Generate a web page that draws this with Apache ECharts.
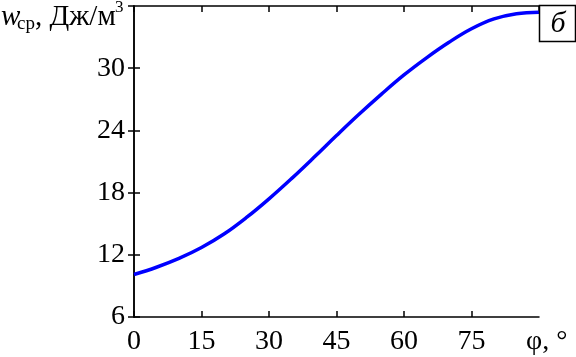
<!DOCTYPE html>
<html><head><meta charset="utf-8">
<script src="https://cdn.jsdelivr.net/npm/echarts@6/dist/echarts.min.js"></script>
<style>html,body{margin:0;padding:0;background:#fff}#c{width:576px;height:357px}</style>
</head><body><div id="c"></div>
<script>
const phi = [0,5,10,15,20,25,30,35,40,45,50,55,60,65,70,75,80,85,90];
const wcp = [10.1,10.8,11.65,12.7,14.0,15.6,17.4,19.35,21.4,23.5,25.55,27.5,29.35,31.0,32.5,33.8,34.75,35.25,35.4];
const xTicks = [0,15,30,45,60,75];
const yTicks = [6,12,18,24,30];
const xMax = 90, yMax = 36;
const F = 'Liberation Serif, Times New Roman, serif';
const chart = echarts.init(document.getElementById('c'), null, {renderer:'canvas'});
const tick = {show:true,inside:true,length:6,lineStyle:{color:'#000',width:1.5}};
const line = {show:true,lineStyle:{color:'#000',width:1.5}};
const split = {show:true,lineStyle:{color:'rgba(0,0,0,0)'}};
const lab = {color:'#000',fontFamily:F,fontSize:28,showMaxLabel:false};
const xBase = {type:'value',min:xTicks[0],max:xMax,interval:xTicks[1]-xTicks[0]};
const yBase = {type:'value',min:yTicks[0],max:yMax,interval:yTicks[1]-yTicks[0]};
chart.setOption({
  animation:false,
  grid:{left:134,right:37,top:6,bottom:40},
  xAxis:[
    Object.assign({},xBase,{axisLine:line,axisTick:tick,splitLine:split,axisLabel:Object.assign({margin:11},lab)}),
    Object.assign({},xBase,{position:'top',axisLine:line,axisTick:tick,splitLine:split,axisLabel:{show:false}})
  ],
  yAxis:[
    Object.assign({},yBase,{axisLine:line,axisTick:tick,splitLine:split,axisLabel:Object.assign({margin:9},lab)}),
    Object.assign({},yBase,{position:'right',axisLine:line,axisTick:tick,splitLine:split,axisLabel:{show:false}})
  ],
  series:[{type:'line',data:phi.map((p,i)=>[p,wcp[i]]),smooth:0.4,showSymbol:false,
    lineStyle:{color:'#0000ff',width:3.5}}],
  graphic:[
    {type:'text',left:1,top:3,style:{text:'w',font:'italic 29px '+F,fill:'#000'}},
    {type:'text',left:17,top:15,style:{text:'ср',font:'19px '+F,fill:'#000'}},
    {type:'text',left:35,top:3,style:{text:', Дж/м',font:'29px '+F,fill:'#000'}},
    {type:'text',left:115,top:-1,style:{text:'3',font:'17px '+F,fill:'#000'}},
    {type:'rect',z:100,shape:{x:539.5,y:5.5,width:36,height:36},style:{fill:'#fff',stroke:'#000',lineWidth:1.5}},
    {type:'text',z:101,x:558,y:24,style:{text:'б',font:'italic 30px '+F,fill:'#000',align:'center',verticalAlign:'middle'}},
    {type:'text',left:526,top:328,style:{text:'φ, °',font:'28px '+F,fill:'#000'}}
  ]
});
</script></body></html>
